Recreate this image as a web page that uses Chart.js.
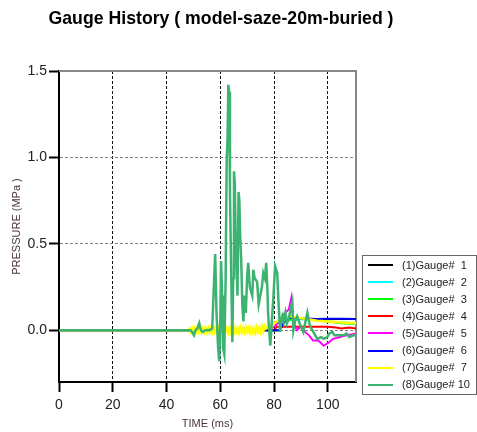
<!DOCTYPE html>
<html>
<head>
<meta charset="utf-8">
<script src="https://cdn.jsdelivr.net/npm/chart.js@4.4.0/dist/chart.umd.min.js"></script>
<style>
  html, body { margin: 0; padding: 0; background: #fff; }
  #wrap { width: 477px; height: 432px; }
</style>
</head>
<body>
<div id="wrap"><canvas id="chart" width="477" height="432"></canvas></div>
<script>
// chart text
const chartTitle = 'Gauge History ( model-saze-20m-buried )';
const xTitle = 'TIME (ms)';
const yTitle = 'PRESSURE (MPa )';
const gaugeLabels = ['(1)Gauge#  1', '(2)Gauge#  2', '(3)Gauge#  3', '(4)Gauge#  4',
                     '(5)Gauge#  5', '(6)Gauge#  6', '(7)Gauge#  7', '(8)Gauge# 10'];
const gaugeColors = ['#000000', '#00ffff', '#00ff00', '#ff0000',
                     '#ff00ff', '#0000ff', '#ffff00', '#3cb371'];

// axis ticks
const xTicks = [0, 20, 40, 60, 80, 100];
const yTicks = [0, 0.5, 1.0, 1.5];

// (1) Gauge 1
const gauge1Time     = [0, 82, 84, 86, 90, 95, 100, 105, 110.5];
const gauge1Pressure = [0, 0.0, 0.05, 0.07, 0.065, 0.065, 0.065, 0.065, 0.065];

// (2) Gauge 2
const gauge2Time     = [0, 82, 84, 88, 95, 100, 105, 110.5];
const gauge2Pressure = [0, 0.0, 0.05, 0.065, 0.06, 0.05, 0.045, 0.04];

// (3) Gauge 3
const gauge3Time     = [0, 82, 84, 88, 95, 98, 100, 105, 110.5];
const gauge3Pressure = [0, 0.0, 0.05, 0.07, 0.06, 0.055, 0.05, 0.04, 0.035];

// (4) Gauge 4
const gauge4Time     = [0, 58, 59, 60, 61, 62, 68, 69, 70, 80, 81, 85, 90, 95, 100, 103, 105, 108, 110.5];
const gauge4Pressure = [0, 0.0, 0.01, -0.005, 0.012, 0.0, 0.0, 0.01, 0.0, 0.0, 0.02, 0.02, 0.02, 0.02, 0.02, 0.015, 0.01, 0.015, 0.01];

// (5) Gauge 5
const gauge5Time     = [0, 60, 70, 78, 80, 82, 84, 85.5, 86.5, 87.2, 88.5, 90, 91.5, 93, 94.5, 96.5, 98.5, 99.5, 100.5, 102, 104.5, 107, 110.5];
const gauge5Pressure = [0, 0.0, 0.01, 0.0, 0.02, 0.05, 0.1, 0.12, 0.19, 0.05, 0.0, 0.02, -0.01, -0.03, -0.06, -0.06, -0.09, -0.08, -0.07, -0.05, -0.04, -0.03, -0.02];

// (6) Gauge 6
const gauge6Time     = [0, 82, 84, 86, 88, 92, 96, 100, 105, 110.5];
const gauge6Pressure = [0, 0.0, 0.05, 0.075, 0.07, 0.068, 0.065, 0.066, 0.066, 0.065];

// (7) Gauge 7
const gauge7Time = [0, 48, 48.5, 49, 49.5, 50, 50.5, 51, 51.5, 52, 52.5, 53, 53.5, 54, 54.5, 55, 55.5, 56, 56.5, 57,
                    57.5, 58, 58.5, 59, 59.5, 60, 60.5, 61, 61.5, 62, 62.5, 63, 63.5, 64, 64.5, 65, 65.5, 66, 66.5, 67,
                    67.5, 68, 68.5, 69, 69.5, 70, 70.5, 71, 71.5, 72, 72.5, 73, 73.5, 74, 74.5, 75, 75.5, 76, 76.5, 77,
                    78, 79, 80, 81, 82, 84, 86, 88, 90,
                    92, 94, 96, 100, 105, 110.5];
const gauge7Pressure = [0, 0.0, 0.01, -0.008, 0.012, -0.012, 0.01, -0.01, 0.014, -0.008, 0.012, -0.014, 0.01, -0.012, 0.015, -0.01, 0.012, -0.015, 0.01, -0.012,
                        0.016, -0.01, 0.012, -0.016, 0.014, -0.012, 0.01, -0.015, 0.016, -0.01, 0.012, -0.014, 0.015, -0.012, 0.01, -0.016, 0.014, -0.01, 0.012, -0.015,
                        0.016, -0.012, 0.01, -0.014, 0.015, -0.01, 0.012, -0.016, 0.014, -0.012, 0.01, -0.015, 0.016, -0.01, 0.012, -0.014, 0.02, -0.008, 0.025, 0.01,
                        0.03, 0.015, 0.04, 0.05, 0.06, 0.08, 0.08, 0.075, 0.07,
                        0.065, 0.06, 0.055, 0.05, 0.045, 0.04];

// (8) Gauge 10
const gauge10Time = [0, 49, 49.5, 50.2, 50.8, 51.5, 52.2, 52.8, 53.5, 54.5,
                     56, 57, 57.6, 58.1, 58.6, 59.2, 59.6, 60.0, 60.3, 60.7,
                     61.0, 61.5, 62.0, 62.4, 62.7, 63.0, 63.3, 63.6, 63.9, 64.2,
                     64.5, 64.8, 65.1, 65.4, 65.7, 66.0, 66.4, 66.8, 67.1, 67.4,
                     67.8, 68.2, 68.6, 69.0, 69.5, 70.0, 70.4, 71.0, 71.9, 72.3,
                     72.8, 73.7, 74.3, 74.9, 75.5, 76.0, 76.6, 77.1, 77.5, 77.8,
                     78.2, 78.6, 79.0, 79.3, 79.8, 80.4, 80.8, 81.2, 81.7, 82.3,
                     82.7, 83.1, 83.6, 84.2, 84.8, 85.5, 86.2, 86.8, 87.2, 87.8,
                     88.6, 89.5, 90.9, 91.7, 92.4, 93.0, 93.5, 94.6, 96.1, 97.5,
                     98.5, 99.8, 100.5, 101.7, 102.5, 104, 105.8, 107, 108, 109.5,
                     110.5];
const gauge10Pressure = [0, 0, -0.01, -0.03, 0.0, 0.01, 0.04, 0.0, -0.01, 0.0,
                         0.0, 0.01, 0.25, 0.44, 0.1, -0.1, -0.18, 0.05, 0.4, 0.2,
                         -0.1, -0.14, 0.3, 1.0, 1.1, 1.42, 1.38, 0.8, 0.5, 0.2,
                         -0.07, 0.3, 0.92, 0.85, 0.55, 0.4, 0.2, 0.8, 0.75, 0.55,
                         0.4, 0.15, 0.05, 0.2, 0.1, 0.31, 0.39, 0.25, 0.2, 0.35,
                         0.3, 0.28, 0.15, 0.2, 0.25, 0.33, 0.3, 0.39, 0.25, 0.1,
                         0.0, -0.09, 0.0, 0.08, 0.2, 0.37, 0.35, 0.33, 0.15, -0.01,
                         0.05, 0.08, 0.05, 0.1, 0.04, 0.07, 0.12, 0.16, 0.0, 0.05,
                         0.08, 0.04, -0.01, 0.05, 0.1, 0.05, 0.02, -0.01, -0.05, -0.04,
                         -0.05, -0.04, -0.02, -0.01, -0.03, -0.03, -0.03, -0.02, -0.04, -0.03,
                         -0.03];

const gaugeTimes = [gauge1Time, gauge2Time, gauge3Time, gauge4Time,
                    gauge5Time, gauge6Time, gauge7Time, gauge10Time];
const gaugePressures = [gauge1Pressure, gauge2Pressure, gauge3Pressure, gauge4Pressure,
                        gauge5Pressure, gauge6Pressure, gauge7Pressure, gauge10Pressure];

const FONT = "'Liberation Sans', Arial, sans-serif";

const datasets = gaugeLabels.map((label, i) => ({
    label: label,
    data: gaugeTimes[i].map((t, k) => ({ x: t, y: gaugePressures[i][k] })),
    borderColor: gaugeColors[i],
    backgroundColor: gaugeColors[i],
    borderWidth: i >= 6 ? 2.5 : 2,
    pointRadius: 0,
    tension: 0,
    fill: false,
    order: gaugeLabels.length - i   // later gauges drawn on top
}));

// gray frame on top and right of the plot
const framePlugin = {
    id: 'frame',
    beforeDatasetsDraw(chart) {
        const { ctx, chartArea: a } = chart;
        ctx.save();
        ctx.strokeStyle = '#888';
        ctx.lineWidth = 2;
        ctx.beginPath();
        ctx.moveTo(a.left, a.top);
        ctx.lineTo(a.right, a.top);
        ctx.lineTo(a.right, a.bottom);
        ctx.stroke();
        ctx.restore();
    }
};

// title and boxed legend
const titleLegendPlugin = {
    id: 'titleLegend',
    afterDraw(chart) {
        const ctx = chart.ctx;
        ctx.save();
        ctx.fillStyle = '#000';
        ctx.font = 'bold 17.7px ' + FONT;
        ctx.textAlign = 'center';
        ctx.textBaseline = 'alphabetic';
        ctx.fillText(chartTitle, 221, 24);

        // legend box
        const bx = 362, by = 255, bw = 114, bh = 139;
        ctx.fillStyle = '#fff';
        ctx.fillRect(bx, by, bw, bh);
        ctx.strokeStyle = '#666';
        ctx.lineWidth = 1;
        ctx.strokeRect(bx + 0.5, by + 0.5, bw, bh);

        ctx.font = '11px ' + FONT;
        ctx.textAlign = 'left';
        ctx.textBaseline = 'middle';
        chart.data.datasets.forEach((ds, i) => {
            const y = 265 + i * 17.1;
            ctx.strokeStyle = ds.borderColor;
            ctx.lineWidth = 2;
            ctx.beginPath();
            ctx.moveTo(368, Math.round(y));
            ctx.lineTo(393, Math.round(y));
            ctx.stroke();
            ctx.fillStyle = '#222';
            ctx.fillText(ds.label, 402, y + 0.5);
        });
        ctx.restore();
    }
};

new Chart(document.getElementById('chart'), {
    type: 'line',
    data: { datasets: datasets },
    options: {
        responsive: false,
        animation: false,
        devicePixelRatio: 1,
        layout: { padding: { top: 71, right: 121, bottom: 0, left: 0 } },
        plugins: {
            legend: { display: false },
            title: { display: false },
            tooltip: { enabled: false }
        },
        scales: {
            x: {
                type: 'linear',
                min: 0,
                max: 110.5,
                afterBuildTicks: (scale) => { scale.ticks = xTicks.map(v => ({ value: v })); },
                afterFit: (scale) => { scale.height = 50; },
                grid: {
                    color: (c) => (c.tick && c.tick.value === 0) ? 'rgba(0,0,0,0)' : '#111',
                    lineWidth: 1,
                    tickLength: 10,
                    tickColor: '#000',
                    tickWidth: 2
                },
                border: { display: true, color: '#000', width: 2, dash: [3, 2] },
                ticks: {
                    padding: 5,
                    color: '#222',
                    maxRotation: 0,
                    autoSkip: false,
                    font: { family: FONT, size: 14 },
                    callback: (v) => String(v)
                },
                title: {
                    display: true,
                    text: xTitle,
                    color: '#4a3340',
                    font: { family: FONT, size: 11 },
                    padding: { top: 0, bottom: 1 }
                }
            },
            y: {
                type: 'linear',
                min: -0.3,
                max: 1.5,
                afterBuildTicks: (scale) => { scale.ticks = yTicks.map(v => ({ value: v })); },
                afterFit: (scale) => { scale.width = 59; },
                grid: {
                    color: (c) => (c.tick && c.tick.value === 1.5) ? 'rgba(0,0,0,0)' : '#808080',
                    lineWidth: 1,
                    tickLength: 10,
                    tickColor: '#000',
                    tickWidth: 2
                },
                border: { display: true, color: '#000', width: 2, dash: [3, 2] },
                ticks: {
                    padding: 2,
                    color: '#222',
                    font: { family: FONT, size: 14 },
                    callback: (v) => Number(v).toFixed(1)
                },
                title: {
                    display: true,
                    text: yTitle,
                    color: '#4a3340',
                    font: { family: FONT, size: 11 },
                    padding: { top: 10, bottom: 0 }
                }
            }
        }
    },
    plugins: [framePlugin, titleLegendPlugin]
});
</script>
</body>
</html>
